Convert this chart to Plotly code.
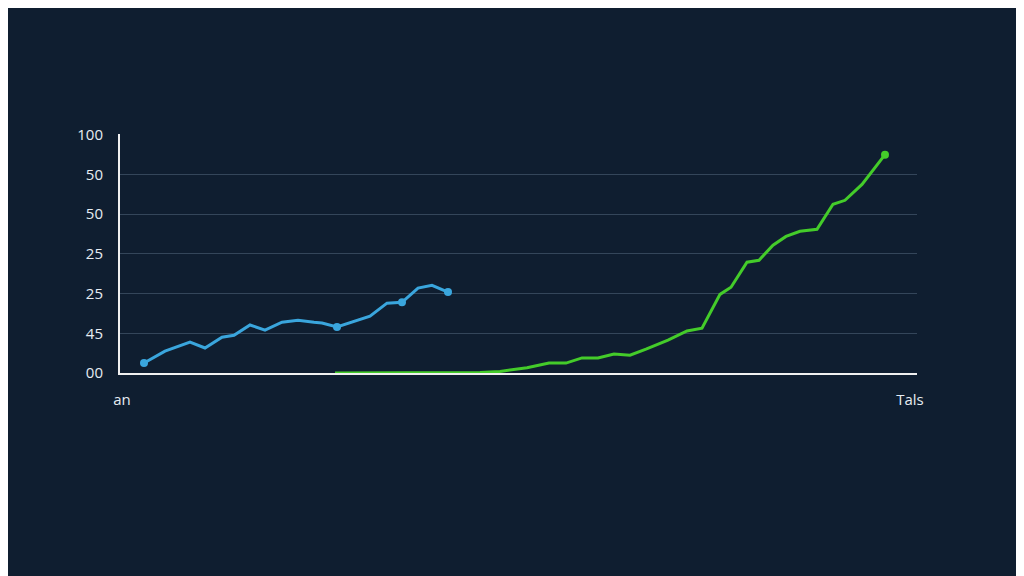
import plotly.graph_objects as go

y_tick_vals = [0, 1, 2, 3, 4, 5, 6]
y_tick_text = ["00", "45", "25", "25", "50", "50", "100"]
x_tick_vals = [122, 910]
x_tick_text = ["an", "Tals"]

blue_x = [144,165,190,205,222,234,250,265,282,298,314,322,337,352,370,387,402,418,432,448]
blue_y = [0.25,0.55,0.78,0.63,0.9,0.95,1.21,1.08,1.28,1.33,1.28,1.26,1.16,1.28,1.43,1.76,1.78,2.14,2.21,2.04]
blue_marker_idx = [0, 12, 16, 19]

green_x = [335,400,440,480,500,527,549,566,582,598,614,630,646,668,687,702,720,731,747,759,773,786,800,817,833,845,862,885]
green_y = [0,0,0,0.01,0.04,0.13,0.25,0.25,0.38,0.38,0.48,0.45,0.6,0.83,1.06,1.13,1.98,2.16,2.79,2.84,3.22,3.44,3.57,3.62,4.25,4.35,4.75,5.5]

bg = "#0f1e30"
fig = go.Figure()
fig.add_trace(go.Scatter(x=blue_x, y=blue_y, mode="lines", line=dict(color="#3aa6dd", width=3)))
fig.add_trace(go.Scatter(x=[blue_x[i] for i in blue_marker_idx], y=[blue_y[i] for i in blue_marker_idx],
                         mode="markers", marker=dict(color="#3aa6dd", size=8)))
fig.add_trace(go.Scatter(x=green_x, y=green_y, mode="lines", line=dict(color="#44cc2a", width=3)))
fig.add_trace(go.Scatter(x=[green_x[-1]], y=[green_y[-1]], mode="markers", marker=dict(color="#44cc2a", size=8)))

fig.update_layout(
    width=1024, height=576, showlegend=False,
    paper_bgcolor=bg, plot_bgcolor=bg,
    margin=dict(l=112, r=115, t=126, b=211),
    font=dict(family="Open Sans", color="#e6ecf2", size=15),
    xaxis=dict(range=[120, 917], tickvals=x_tick_vals, ticktext=x_tick_text, showgrid=False,
               zeroline=False, showline=True, linecolor="#f0f0f0", linewidth=2, ticks="",
               ticklabelstandoff=12),
    yaxis=dict(range=[0, 6.02], tickvals=y_tick_vals, ticktext=y_tick_text, gridcolor="#34465a",
               gridwidth=1, zeroline=False, showline=True, linecolor="#f0f0f0", linewidth=2,
               ticks="", ticklabelstandoff=12),
)
fig.write_html("out.html")
